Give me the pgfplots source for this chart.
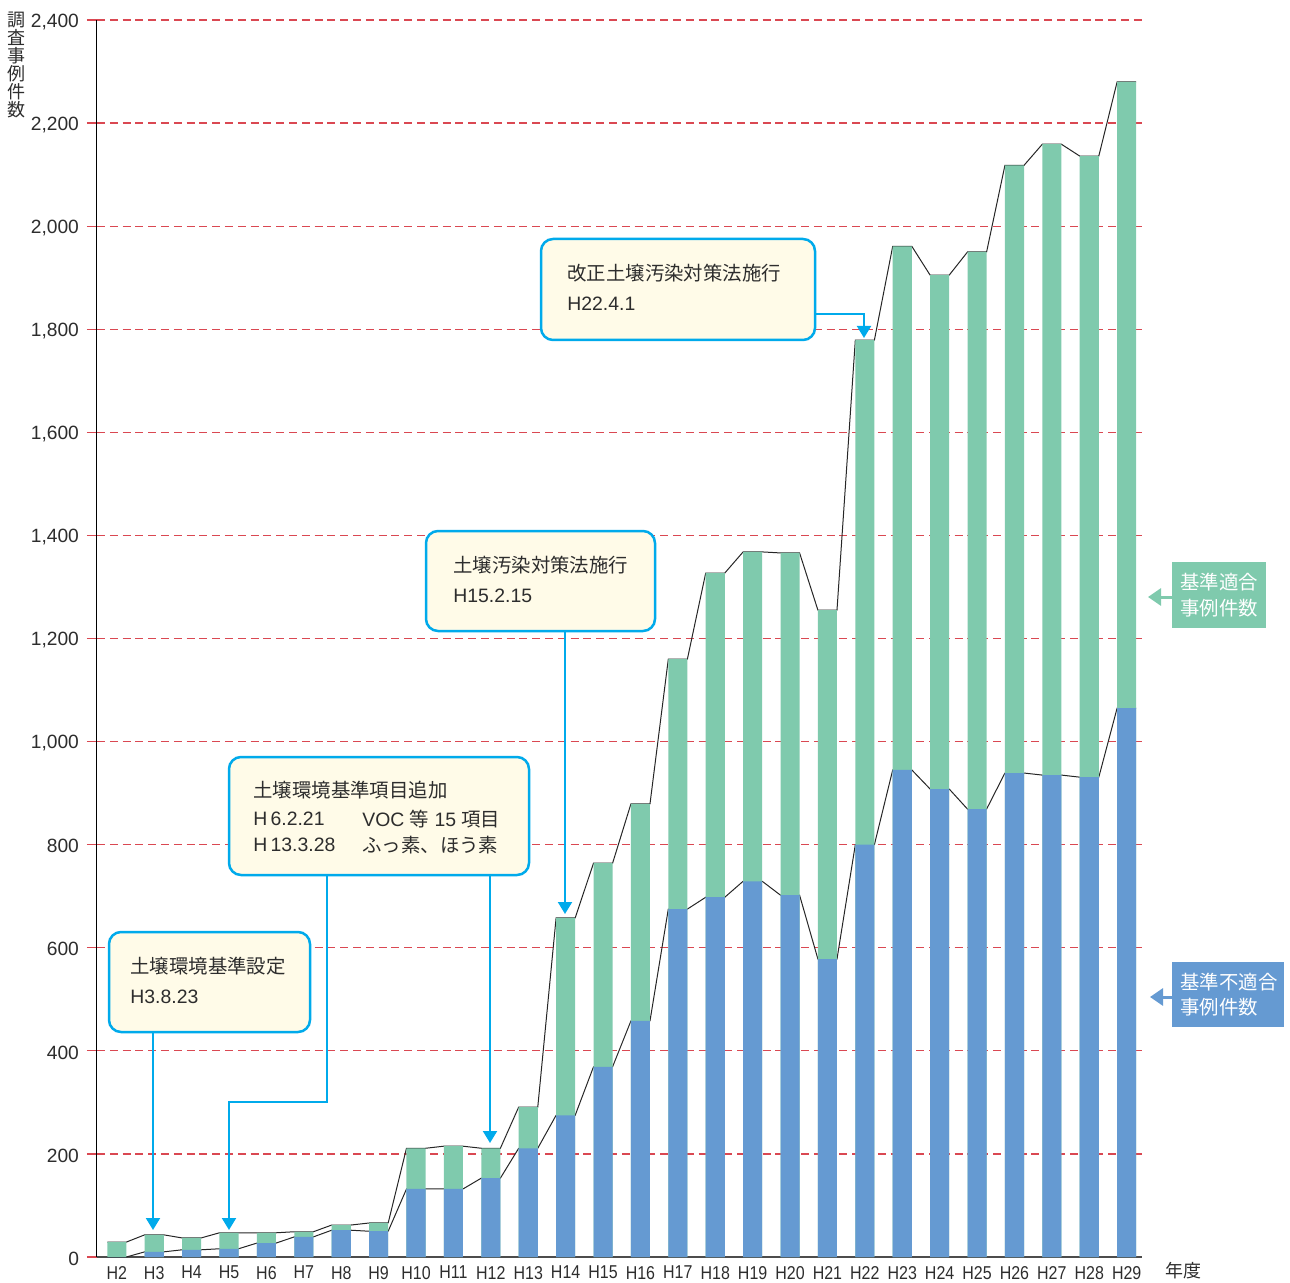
\documentclass[border=0pt]{standalone}
\usepackage{pgfplots}
\pgfplotsset{compat=1.18}
\usepackage{pgfplotstable}
\usepackage{fontspec}
\setmainfont{Liberation Sans}
\newfontfamily\jp{Noto Sans CJK JP}
\usetikzlibrary{arrows.meta}
\definecolor{greenc}{RGB}{127,202,173}
\definecolor{bluec}{RGB}{101,154,210}
\definecolor{cyanc}{RGB}{0,170,235}
\definecolor{cream}{RGB}{255,251,232}
\definecolor{gridred}{RGB}{218,72,82}
\definecolor{textc}{RGB}{45,45,45}

% each year twice: side -1 = left edge of bar, +1 = right edge
\pgfplotstableread{
n side blue total
0 -1 0 29
0 1 0 29
1 -1 10 43
1 1 10 43
2 -1 14 37
2 1 14 37
3 -1 16 47
3 1 16 47
4 -1 27 47
4 1 27 47
5 -1 39 49
5 1 39 49
6 -1 52 62
6 1 52 62
7 -1 50 66
7 1 50 66
8 -1 132 211
8 1 132 211
9 -1 132 215
9 1 132 215
10 -1 153 211
10 1 153 211
11 -1 211 291
11 1 211 291
12 -1 275 658
12 1 275 658
13 -1 369 764
13 1 369 764
14 -1 458 879
14 1 458 879
15 -1 675 1160
15 1 675 1160
16 -1 698 1327
16 1 698 1327
17 -1 729 1368
17 1 729 1368
18 -1 702 1366
18 1 702 1366
19 -1 578 1255
19 1 578 1255
20 -1 800 1779
20 1 800 1779
21 -1 945 1961
21 1 945 1961
22 -1 908 1905
22 1 908 1905
23 -1 869 1950
23 1 869 1950
24 -1 939 2118
24 1 939 2118
25 -1 935 2159
25 1 935 2159
26 -1 931 2136
26 1 931 2136
27 -1 1065 2280
27 1 1065 2280
}\datatable

\newcommand\cx[1]{\scalebox{0.86}[1]{#1}}

\begin{document}
\begin{tikzpicture}
\useasboundingbox (-48.5pt,-12.5pt) rectangle (596.5pt,628.5pt);
\begin{axis}[
  at={(0,0)}, anchor=south west,
  scale only axis, width=522.5pt, height=618.5pt,
  xmin=-0.53, xmax=27.41, ymin=0, ymax=2400,
  axis x line*=bottom, axis y line*=left,
  x axis line style={draw=black!70, line width=0.8pt, -},
  y axis line style={draw=black, line width=0.5pt, -},
  ytick={0,200,...,2400},
  ymajorgrids,
  major grid style={gridred, dash pattern=on 4pt off 2.4pt, line width=0.6pt},
  ytick style={gridred, line width=0.6pt},
  tick align=outside, major tick length=5pt,
  xtick={0,...,27}, xtick style={draw=none},
  xticklabels={\cx{H2},\cx{H3},\cx{H4},\cx{H5},\cx{H6},\cx{H7},\cx{H8},\cx{H9},\cx{H10},\cx{H11},\cx{H12},\cx{H13},\cx{H14},\cx{H15},\cx{H16},\cx{H17},\cx{H18},\cx{H19},\cx{H20},\cx{H21},\cx{H22},\cx{H23},\cx{H24},\cx{H25},\cx{H26},\cx{H27},\cx{H28},\cx{H29}},
  xticklabel style={font=\fontsize{9.3}{10}\selectfont, text=textc, yshift=4pt},
  yticklabel style={font=\fontsize{9.6}{10}\selectfont, text=textc, xshift=-0.5pt, yshift=-0.8pt},
  /pgf/number format/.cd, 1000 sep={,}, assume math mode=true,
]
\addplot[black!85, line width=0.5pt, sharp plot, mark=none]
  table[x expr=\thisrow{n}+0.255*\thisrow{side}, y=total] {\datatable};
\addplot[black!85, line width=0.5pt, sharp plot, mark=none]
  table[x expr=\thisrow{n}+0.255*\thisrow{side}, y=blue] {\datatable};
\addplot[ybar, bar width=0.51, bar shift=0pt, fill=greenc, draw=none, each nth point=2]
  table[x=n, y=total] {\datatable};
\addplot[ybar, bar width=0.51, bar shift=0pt, fill=bluec, draw=none, each nth point=2]
  table[x=n, y=blue] {\datatable};
\end{axis}

\begin{scope}[x=0.5pt, y=-0.5pt, shift={(-48.5pt,628.5pt)}]
  \tikzset{
    callout/.style={draw=cyanc, line width=1.25pt, fill=cream, rounded corners=6pt},
    arr/.style={draw=cyanc, line width=1pt, -{Triangle[width=7pt,length=6pt]}},
    txt/.style={anchor=west, inner sep=0pt, text=textc, font=\fontsize{9.7}{10}\selectfont},
    jtxt/.style={txt, font=\jp\fontsize{9.7}{10}\selectfont},
  }
  % box 1
  \draw[callout] (109,932) rectangle (310,1032);
  \node[jtxt] at (130,966) {土壌環境基準設定};
  \node[txt] at (130,997) {H3.8.23};
  \draw[arr] (153,1033) -- (153,1230);
  % box 2
  \draw[callout] (229,757) rectangle (529,875);
  \node[jtxt] at (253,790) {土壌環境基準項目追加};
  \node[txt] at (253,819) {H\,6.2.21};
  \node[txt] at (362,819) {VOC {\jp 等} 15 {\jp 項目}};
  \node[txt] at (253,845) {H\,13.3.28};
  \node[jtxt] at (362,845) {ふっ素、ほう素};
  \draw[arr] (327,876) -- (327,1102) -- (229,1102) -- (229,1230);
  \draw[arr] (490,876) -- (490,1143);
  % box 3
  \draw[callout] (426,531) rectangle (655,631);
  \node[jtxt] at (453,565) {土壌汚染対策法施行};
  \node[txt] at (453,596) {H15.2.15};
  \draw[arr] (565,632) -- (565,914);
  % box 4
  \draw[callout] (541,239) rectangle (815,340);
  \node[jtxt] at (567,273) {改正土壌汚染対策法施行};
  \node[txt] at (567,304) {H22.4.1};
  \draw[arr] (816,314) -- (864,314) -- (864,338);
  % legend boxes
  \fill[greenc] (1172,562) rectangle (1266,628);
  \node[jtxt, text=white] at (1180,582) {基準適合};
  \node[jtxt, text=white] at (1180,608) {事例件数};
  \draw[greenc, line width=1.5pt, -{Triangle[width=8.5pt,length=6.5pt]}] (1173,597) -- (1148,597);
  \fill[bluec] (1172,962) rectangle (1284,1027);
  \node[jtxt, text=white] at (1180,982) {基準不適合};
  \node[jtxt, text=white] at (1180,1007) {事例件数};
  \draw[bluec, line width=1.5pt, -{Triangle[width=8.5pt,length=6.5pt]}] (1173,997) -- (1150,997);
  % axis titles
  \node[inner sep=0pt, align=center, text=textc, font=\jp\fontsize{9}{9}\selectfont] at (17,65) {調\\査\\事\\例\\件\\数};
  \node[inner sep=0pt, text=textc, font=\jp\fontsize{9}{9}\selectfont] at (1183,1271) {年度};
\end{scope}
\end{tikzpicture}
\end{document}
